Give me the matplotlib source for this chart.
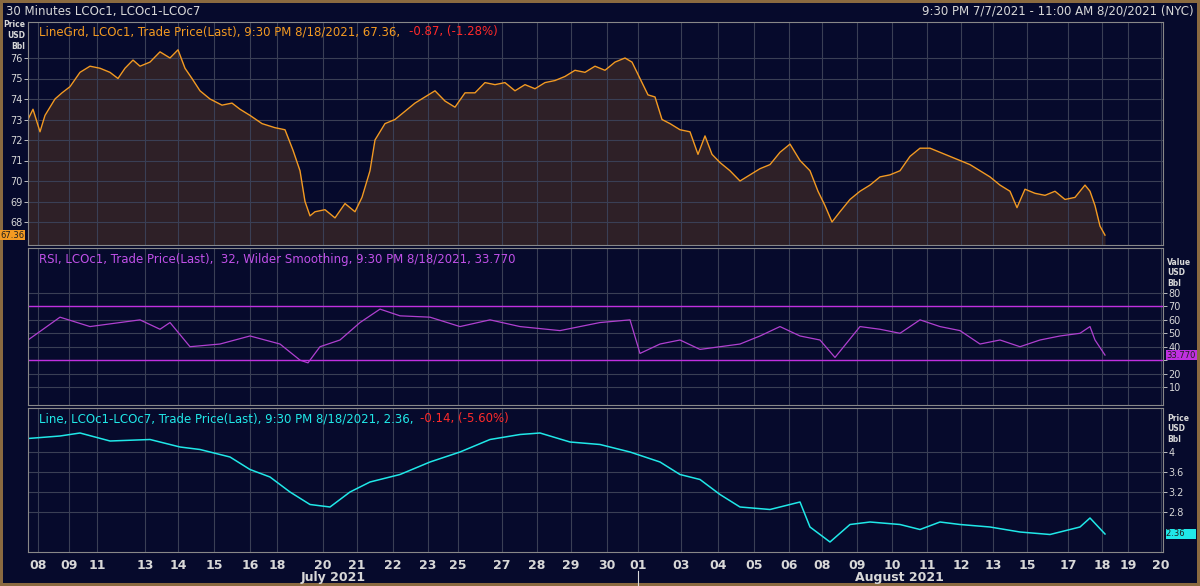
import matplotlib
matplotlib.use("Agg")
import matplotlib.pyplot as plt

# x is a session-time index (0..1135 across the 7/7 - 8/20 window)
TICK_POS = [10, 41, 69, 117, 150, 186, 222, 249, 295, 329, 365, 400, 430, 474, 509,
            543, 579, 610, 653, 690, 726, 761, 794, 829, 864, 899, 933, 965, 999,
            1040, 1074, 1100, 1133]
TICK_LABELS = ["08", "09", "11", "13", "14", "15", "16", "18", "20", "21", "22", "23",
               "25", "27", "28", "29", "30", "01", "03", "04", "05", "06", "08", "09",
               "10", "11", "12", "13", "15", "17", "18", "19", "20"]

brent_x = [0, 5, 12, 17, 27, 34, 42, 52, 62, 72, 82, 90, 97, 105, 112, 122, 132, 142,
           150, 157, 164, 172, 182, 194, 204, 212, 222, 234, 247, 257, 265, 272, 277,
           282, 287, 297, 307, 317, 327, 334, 342, 347, 357, 367, 377, 387, 397, 407,
           417, 427, 437, 447, 457, 467, 477, 487, 497, 507, 517, 527, 537, 547, 557,
           567, 577, 587, 597, 604, 612, 620, 627, 634, 642, 652, 662, 670, 677, 684,
           692, 702, 712, 722, 732, 742, 752, 762, 772, 782, 790, 797, 804, 812, 822,
           832, 842, 852, 862, 872, 882, 892, 902, 912, 922, 932, 942, 952, 962, 972,
           982, 989, 997, 1007, 1017, 1027, 1037, 1047, 1057, 1062, 1067, 1072, 1077]
brent = [73.0, 73.5, 72.4, 73.2, 74.0, 74.3, 74.6, 75.3, 75.6, 75.5, 75.3, 75.0, 75.5,
         75.9, 75.6, 75.8, 76.3, 76.0, 76.4, 75.5, 75.0, 74.4, 74.0, 73.7, 73.8, 73.5,
         73.2, 72.8, 72.6, 72.5, 71.5, 70.5, 69.0, 68.3, 68.5, 68.6, 68.2, 68.9, 68.5,
         69.2, 70.5, 72.0, 72.8, 73.0, 73.4, 73.8, 74.1, 74.4, 73.9, 73.6, 74.3, 74.3,
         74.8, 74.7, 74.8, 74.4, 74.7, 74.5, 74.8, 74.9, 75.1, 75.4, 75.3, 75.6, 75.4,
         75.8, 76.0, 75.8, 75.0, 74.2, 74.1, 73.0, 72.8, 72.5, 72.4, 71.3, 72.2, 71.3,
         70.9, 70.5, 70.0, 70.3, 70.6, 70.8, 71.4, 71.8, 71.0, 70.5, 69.5, 68.8, 68.0,
         68.5, 69.1, 69.5, 69.8, 70.2, 70.3, 70.5, 71.2, 71.6, 71.6, 71.4, 71.2, 71.0,
         70.8, 70.5, 70.2, 69.8, 69.5, 68.7, 69.6, 69.4, 69.3, 69.5, 69.1, 69.2, 69.8,
         69.5, 68.8, 67.8, 67.36]

rsi_x = [0, 32, 62, 82, 112, 132, 142, 162, 192, 222, 252, 272, 280, 292, 312, 332,
         352, 372, 402, 432, 462, 492, 532, 572, 602, 612, 632, 652, 672, 692, 712,
         732, 752, 772, 792, 807, 832, 852, 872, 892, 912, 932, 952, 972, 992, 1012,
         1032, 1052, 1062, 1067, 1077]
rsi = [45, 62, 55, 57, 60, 53, 58, 40, 42, 48, 42, 30, 28, 40, 45, 58, 68, 63, 62, 55,
       60, 55, 52, 58, 60, 35, 42, 45, 38, 40, 42, 48, 55, 48, 45, 32, 55, 53, 50, 60,
       55, 52, 42, 45, 40, 45, 48, 50, 55, 45, 33.77]

spread_x = [0, 32, 52, 82, 122, 152, 172, 202, 222, 242, 262, 282, 302, 322, 342, 372,
            402, 432, 462, 492, 512, 542, 572, 602, 632, 652, 672, 692, 712, 742, 772,
            782, 802, 822, 842, 872, 892, 912, 932, 962, 992, 1022, 1052, 1062, 1077]
spread = [4.27, 4.32, 4.38, 4.22, 4.25, 4.1, 4.05, 3.9, 3.65, 3.5, 3.2, 2.95, 2.9, 3.2,
          3.4, 3.55, 3.8, 4.0, 4.25, 4.35, 4.38, 4.2, 4.15, 4.0, 3.8, 3.55, 3.45, 3.15,
          2.9, 2.85, 3.0, 2.5, 2.2, 2.55, 2.6, 2.55, 2.45, 2.6, 2.55, 2.5, 2.4, 2.35,
          2.5, 2.68, 2.36]

BG = "#060a2c"
GRID = "#3a3f55"
TXT = "#d8d8d8"
W, H = 1200, 586

fig = plt.figure(figsize=(12, 5.86), dpi=100, facecolor=BG)
fig.patch.set_edgecolor("#8a6a40")
fig.patch.set_linewidth(3)


def px_axes(x0, y0, x1, y1):
    return fig.add_axes([x0 / W, 1 - y1 / H, (x1 - x0) / W, (y1 - y0) / H], facecolor=BG)


def style(ax, side):
    ax.set_xlim(0, 1135)
    ax.set_xticks(TICK_POS)
    ax.tick_params(axis="x", length=0, labelbottom=False)
    ax.grid(True, color=GRID, lw=0.8)
    ax.yaxis.set_ticks_position(side)
    ax.tick_params(axis="y", colors=TXT, labelsize=7, length=3, width=0.6, pad=1)
    for s in ax.spines.values():
        s.set_color("#888888")
        s.set_linewidth(0.8)


def ylim_px(ax, v1, p1, v2, p2, top, bot):
    k = (v1 - v2) / (p2 - p1)
    ax.set_ylim(v2 - (bot - p2) * k, v1 + (p1 - top) * k)


# top panel: Brent
ax1 = px_axes(28, 22, 1163, 245)
style(ax1, "left")
ylim_px(ax1, 76, 58, 68, 222, 22, 245)
ax1.plot(brent_x, brent, color="#f39a22", lw=1.0)
ax1.fill_between(brent_x, brent, ax1.get_ylim()[0], color="#7a4a20", alpha=0.35, lw=0)
ax1.set_yticks(range(68, 77))
ax1.text(0.01, 0.985, "LineGrd, LCOc1, Trade Price(Last), 9:30 PM 8/18/2021, 67.36, ",
         transform=ax1.transAxes, color="#f39a22", fontsize=8.5, va="top")
ax1.text(0.336, 0.985, "-0.87, (-1.28%)", transform=ax1.transAxes, color="#ff2a2a",
         fontsize=8.5, va="top")
ax1.text(-0.003, 67.36, "67.36", transform=ax1.get_yaxis_transform(), ha="right",
         va="center", fontsize=6, color="#202020",
         bbox=dict(boxstyle="square,pad=0.1", fc="#f39a22", ec="none"))

# middle panel: RSI
ax2 = px_axes(28, 248, 1163, 405)
style(ax2, "right")
ylim_px(ax2, 80, 293, 10, 387, 248, 405)
ax2.plot(rsi_x, rsi, color="#b040d0", lw=0.9)
ax2.axhline(70, color="#c030e0", lw=1)
ax2.axhline(30, color="#c030e0", lw=1)
rsi_ticks = list(range(10, 90, 10))
ax2.set_yticks(rsi_ticks)
ax2.set_yticklabels(["" if t == 30 else str(t) for t in rsi_ticks])
ax2.text(0.01, 0.97, "RSI, LCOc1, Trade Price(Last),  32, Wilder Smoothing, 9:30 PM 8/18/2021, 33.770",
         transform=ax2.transAxes, color="#c050e8", fontsize=8.5, va="top")
ax2.text(1.003, 33.77, "33.770", transform=ax2.get_yaxis_transform(), ha="left",
         va="center", fontsize=6, color="#202020",
         bbox=dict(boxstyle="square,pad=0.1", fc="#c030e0", ec="none"))

# bottom panel: spread
ax3 = px_axes(28, 408, 1163, 552)
style(ax3, "right")
ylim_px(ax3, 4.0, 452, 2.8, 512, 408, 552)
ax3.plot(spread_x, spread, color="#20e8e8", lw=1.1)
ax3.set_yticks([2.8, 3.2, 3.6, 4.0])
ax3.set_yticklabels(["2.8", "3.2", "3.6", "4"])
ax3.text(0.01, 0.97, "Line, LCOc1-LCOc7, Trade Price(Last), 9:30 PM 8/18/2021, 2.36, ",
         transform=ax3.transAxes, color="#20e8e8", fontsize=8.5, va="top")
ax3.text(0.345, 0.97, "-0.14, (-5.60%)", transform=ax3.transAxes, color="#ff2a2a",
         fontsize=8.5, va="top")
ax3.text(1.003, 2.36, "2.36    ", transform=ax3.get_yaxis_transform(), ha="left",
         va="center", fontsize=6, color="#202020",
         bbox=dict(boxstyle="square,pad=0.1", fc="#20e8e8", ec="none"))

# date axis labels
trans = ax3.get_xaxis_transform()
for p, lab in zip(TICK_POS, TICK_LABELS):
    ax3.text(p, -0.05, lab, transform=trans, ha="center", va="top",
             color=TXT, fontsize=9, fontweight="bold")
fig.text(333 / W, 1 - 578 / H, "July 2021", ha="center", va="center", color=TXT,
         fontsize=9, fontweight="bold")
fig.text(899 / W, 1 - 578 / H, "August 2021", ha="center", va="center", color=TXT,
         fontsize=9, fontweight="bold")
fig.add_artist(plt.Line2D([638 / W, 638 / W], [1 - 571 / H, 1 - 585 / H],
                          color=TXT, lw=0.8))

# axis unit labels
fig.text(25 / W, 1 - 20 / H, "Price\nUSD\nBbl", ha="right", va="top", color=TXT,
         fontsize=5.5, fontweight="bold", linespacing=1.3)
fig.text(1167 / W, 1 - 258 / H, "Value\nUSD\nBbl", ha="left", va="top", color=TXT,
         fontsize=5.5, fontweight="bold", linespacing=1.2)
fig.text(1167 / W, 1 - 414 / H, "Price\nUSD\nBbl", ha="left", va="top", color=TXT,
         fontsize=5.5, fontweight="bold", linespacing=1.2)

# header
fig.text(6 / W, 1 - 11 / H, "30 Minutes LCOc1, LCOc1-LCOc7", color=TXT, fontsize=8.5,
         va="center")
fig.text(1194 / W, 1 - 11 / H, "9:30 PM 7/7/2021 - 11:00 AM 8/20/2021 (NYC)", color=TXT,
         fontsize=8.5, va="center", ha="right")

fig.savefig("out.png", dpi=100, facecolor=BG)
